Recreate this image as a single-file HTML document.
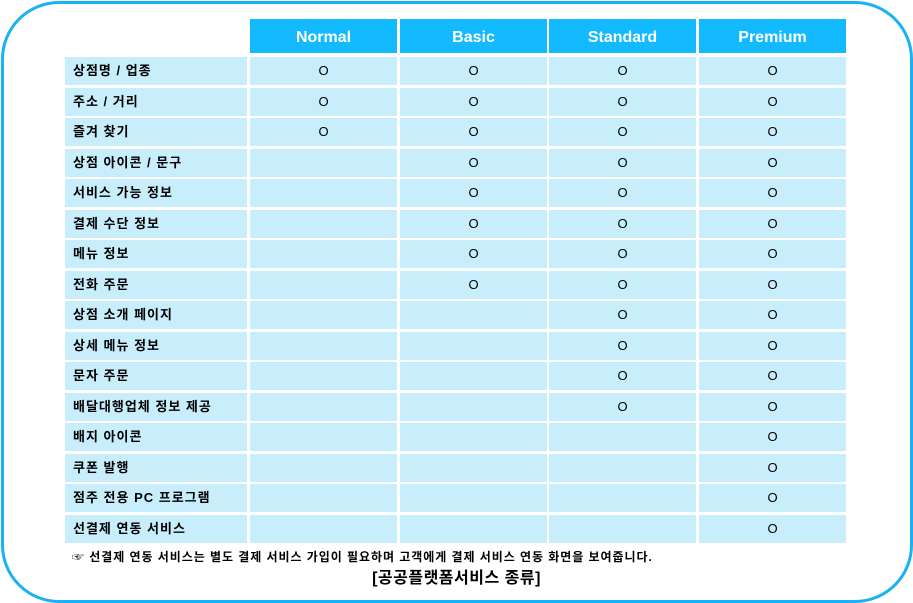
<!DOCTYPE html>
<html><head><meta charset="utf-8">
<style>
body{margin:0;width:913px;height:603px;background:#fff;position:relative;overflow:hidden;font-family:"Liberation Sans","Noto Sans CJK KR",sans-serif}
.frame{position:absolute;left:1px;top:1px;width:906px;height:596px;border:3px solid #1ab2f2;border-radius:58px}
.c{position:absolute;box-sizing:border-box;font-size:13px;color:#000}
.h{background:#14baff;color:#fff;font-weight:bold;font-size:16px;text-align:center;line-height:37px}
.r{background:#c8eefc}
.lab{padding-left:8px;line-height:28px;font-size:13px;font-weight:bold;letter-spacing:1px}
.o{text-align:center;line-height:28px;font-size:13px}
</style></head><body>
<div class="frame"></div>
<div id="t"></div>
<div class="c" style="left:72px;top:548px;font-size:12px;line-height:18px;font-weight:bold;letter-spacing:0.95px">☞ 선결제 연동 서비스는 별도 결제 서비스 가입이 필요하며 고객에게 결제 서비스 연동 화면을 보여줍니다.</div>
<div class="c" style="left:0;width:913px;top:569px;text-align:center;font-size:16px;line-height:20px;font-weight:bold;letter-spacing:0.5px">[공공플랫폼서비스 종류]</div>
<script>
const plans=["Normal","Basic","Standard","Premium"];
const features=["상점명 / 업종","주소 / 거리","즐겨 찾기","상점 아이콘 / 문구","서비스 가능 정보","결제 수단 정보","메뉴 정보","전화 주문","상점 소개 페이지","상세 메뉴 정보","문자 주문","배달대행업체 정보 제공","배지 아이콘","쿠폰 발행","점주 전용 PC 프로그램","선결제 연동 서비스"];
const included=[3,8,12,16];
const t=document.getElementById('t');
const colX=[250,400,549,699],colW=147;
function mk(cls,x,y,w,h,txt){const d=document.createElement('div');d.className='c '+cls;d.style.left=x+'px';d.style.top=y+'px';d.style.width=w+'px';d.style.height=h+'px';d.textContent=txt;t.appendChild(d);return d;}
plans.forEach((p,j)=>{const d=mk('h',colX[j],19,colW,34,p);

});
features.forEach((f,i)=>{const y=Math.round(57+i*30.53);
const l=mk('r lab',65,y,182,28,f);


plans.forEach((p,j)=>{const c=mk('r o',colX[j],y,colW,28,i<included[j]?'O':'');

});});
</script>
</body></html>
